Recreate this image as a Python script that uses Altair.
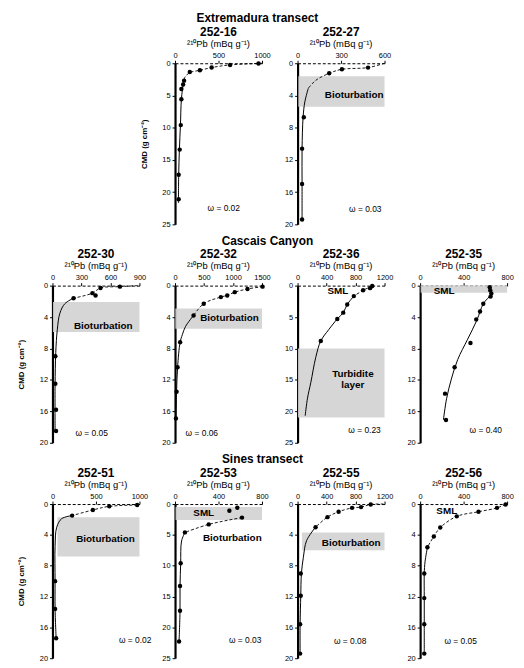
import altair as alt
import pandas as pd

FONT = "Liberation Sans"
W = 88
H = [163, 159, 156]
SUB = "²¹⁰Pb (mBq g⁻¹)"
YT = "CMD (g cm⁻²)"

# ---------------- 252-16 ----------------
P16_X = [960, 633, 421, 286, 170, 104, 93, 73, 73, 66, 54, 42, 42]
P16_D = [0.05, 0.26, 0.67, 1.1, 1.35, 2.7, 3.3, 4.0, 5.6, 9.6, 13.4, 17.3, 21.1]
U16_X = [1000, 633, 421, 286, 170, 112, 93]
U16_D = [0.0, 0.26, 0.67, 1.1, 1.45, 2.2, 3.3]
L16_X = [93, 73, 62, 50, 42, 39]
L16_D = [3.3, 5.6, 9.7, 13.4, 17.5, 21.7]

# ---------------- 252-27 ----------------
P27_X = [486, 306, 218, 43, 31, 31, 31]
P27_D = [0.54, 0.75, 1.25, 6.7, 10.6, 15.0, 19.4]
U27_X = [600, 486, 306, 218, 127, 74]
U27_D = [0.0, 0.54, 0.75, 1.25, 2.1, 3.1]
L27_X = [74, 50, 38, 31, 31, 31]
L27_D = [3.1, 4.8, 6.7, 10.6, 15.0, 19.4]

# ---------------- 252-30 ----------------
P30_X = [698, 497, 446, 413, 218, 30, 30, 37, 37]
P30_D = [0.13, 0.3, 1.25, 0.96, 1.6, 9.0, 12.5, 15.8, 18.5]
U30_X = [883, 698, 497, 413, 218]
U30_D = [0.0, 0.13, 0.3, 0.96, 1.6]
L30_X = [218, 128, 77, 50, 34, 27, 27]
L30_D = [1.6, 2.3, 3.5, 5.6, 8.5, 12.7, 18.5]

# ---------------- 252-32 ----------------
P32_X = [1510, 1250, 1030, 900, 790, 495, 320, 88, 44, 27, 16]
P32_D = [0.13, 0.42, 0.83, 1.25, 1.46, 2.3, 3.8, 7.2, 10.4, 13.5, 16.9]
U32_X = [1516, 1253, 1033, 896, 786, 495, 319]
U32_D = [0.13, 0.42, 0.83, 1.25, 1.46, 2.3, 3.8]
L32_X = [319, 181, 126, 88, 44, 27, 16]
L32_D = [3.8, 5.2, 6.25, 7.2, 10.4, 13.5, 16.9]

# ---------------- 252-36 ----------------
P36_X = [1030, 1000, 904, 776, 685, 630, 548, 320]
P36_D = [0.05, 0.4, 0.75, 1.67, 3.0, 4.3, 5.3, 8.8]
U36_X = [1030, 904, 776]
U36_D = [0.05, 0.75, 1.67]
L36_X = [776, 685, 630, 548, 430, 320, 251, 183, 137, 105]
L36_D = [1.67, 3.0, 4.3, 5.3, 7.0, 8.8, 11.4, 15.4, 17.9, 20.7]

# ---------------- 252-35 ----------------
P35_X = [640, 645, 655, 648, 581, 551, 516, 463, 317, 229, 238]
P35_D = [0.2, 0.6, 1.0, 1.4, 2.3, 3.3, 4.3, 7.3, 10.4, 13.75, 17.1]
U35_X = []
U35_D = []
L35_X = [640, 654, 581, 522, 434, 346, 287, 243, 214]
L35_D = [0.2, 1.0, 2.3, 4.4, 6.9, 9.4, 11.9, 14.4, 17.1]

# ---------------- 252-51 ----------------
P51_X = [974, 653, 464, 226, 30, 30, 42]
P51_D = [0.13, 0.3, 0.77, 1.5, 10.0, 13.6, 17.4]
U51_X = [974, 653, 464, 226]
U51_D = [0.13, 0.3, 0.77, 1.5]
L51_X = [226, 106, 49, 30, 30, 30, 42]
L51_D = [1.5, 1.9, 3.0, 5.5, 10.0, 13.6, 17.4]

# ---------------- 252-53 ----------------
P53_X = [573, 500, 616, 310, 91, 52, 46, 46, 37]
P53_D = [0.6, 1.1, 2.2, 3.3, 4.6, 9.6, 13.3, 17.3, 22.3]
U53_X = [616, 310, 91]
U53_D = [2.2, 3.3, 4.6]
L53_X = [91, 60, 52, 46, 46, 37]
L53_D = [4.6, 6.0, 9.6, 13.3, 17.3, 22.3]

# ---------------- 252-55 ----------------
P55_X = [1009, 876, 752, 566, 412, 248, 44, 44, 35, 35]
P55_D = [0.05, 0.4, 0.5, 1.0, 1.7, 3.0, 9.0, 11.9, 15.6, 19.4]
U55_X = [1186, 1009, 876, 752, 566, 412, 248]
U55_D = [0.0, 0.05, 0.4, 0.5, 1.0, 1.7, 3.0]
L55_X = [248, 124, 80, 53, 44, 35, 35]
L55_D = [3.0, 4.75, 6.9, 9.0, 11.9, 15.6, 19.4]

# ---------------- 252-56 ----------------
P56_X = [786, 707, 537, 337, 185, 126, 67, 38, 38, 38, 38]
P56_D = [0.05, 0.5, 1.0, 1.6, 3.05, 4.2, 5.6, 9.0, 12.2, 15.6, 19.4]
U56_X = [786, 707, 537, 337, 185, 126, 67]
U56_D = [0.05, 0.5, 1.0, 1.6, 3.05, 4.2, 5.6]
L56_X = [67, 45, 38, 38, 38, 38]
L56_D = [5.6, 7.5, 9.0, 12.2, 15.6, 19.4]

# shaded layers: x1, x2, d1, d2
BOX27 = [[5, 600, 1.6, 5.4]]
BOX30 = [[5, 900, 2.1, 5.9]]
BOX32 = [[5, 1500, 2.9, 5.5]]
BOX36 = [[5, 1200, 10.0, 21.0]]
BOX35 = [[5, 800, 0.0, 0.9]]
BOX51 = [[57, 1000, 1.7, 6.8]]
BOX53 = [[5, 800, 0.5, 2.6]]
BOX55 = [[60, 1200, 3.7, 6.0]]

# in-panel labels: text, x, d
LAB27 = [["Bioturbation", 390, 4.0]]
LAB30 = [["Bioturbation", 526, 5.1]]
LAB32 = [["Bioturbation", 940, 4.1]]
LAB36 = [["SML", 557, 0.9], ["Turbidite", 763, 14.0], ["layer", 763, 15.8]]
LAB35 = [["SML", 220, 0.75]]
LAB51 = [["Bioturbation", 610, 4.5]]
LAB53 = [["SML", 264, 1.4], ["Bioturbation", 527, 5.5]]
LAB55 = [["Bioturbation", 740, 5.0]]
LAB56 = [["SML", 245, 0.9]]

# omega labels: text, x, d
OM16 = ["ω = 0.02", 560, 22.5]
OM27 = ["ω = 0.03", 467, 18.1]
OM30 = ["ω = 0.05", 405, 18.75]
OM32 = ["ω = 0.06", 462, 18.75]
OM36 = ["ω = 0.23", 924, 22.9]
OM35 = ["ω = 0.40", 604, 18.4]
OM51 = ["ω = 0.02", 950, 17.7]
OM53 = ["ω = 0.03", 645, 22.1]
OM55 = ["ω = 0.08", 725, 17.8]
OM56 = ["ω = 0.05", 373, 17.8]

T5 = [0, 5, 10, 15, 20, 25]
T4 = [0, 4, 8, 12, 16, 20]


def yaxis(yticks, ytitle, hidden=False):
    kw = dict(values=yticks, title=ytitle, grid=False, domainWidth=2.2, tickSize=3,
              labelPadding=2, titlePadding=14, format="d")
    if hidden:
        kw.update(labelOpacity=0, titleOpacity=0, domainOpacity=0, tickOpacity=0)
    return alt.Axis(**kw)


def panel(name, xmax, xticks, ymax, yticks, px, pd_, ux, ud, lx, ld, boxes, labels, om, h, ytitle):
    X = alt.X("x:Q", scale=alt.Scale(domain=[0, xmax], nice=False, zero=False),
              axis=alt.Axis(orient="top", values=xticks, title=None, grid=False,
                            labelFlush=False, tickSize=3, domainDash=[3, 2],
                            labelPadding=1, format="d"))
    Y = alt.Y("d:Q", scale=alt.Scale(domain=[0, ymax], reverse=True, nice=False, zero=False),
              axis=yaxis(yticks, ytitle))
    layers = []
    if boxes:
        bdf = pd.DataFrame(boxes, columns=["x", "x2", "d", "d2"])
        layers.append(alt.Chart(bdf).mark_rect(color="#d2d2d2", opacity=0.9).encode(
            x=X, x2="x2:Q", y=Y, y2="d2:Q"))
    if labels:
        ldf = pd.DataFrame(labels, columns=["t", "x", "d"])
        layers.append(alt.Chart(ldf).mark_text(font=FONT, fontSize=10, fontWeight="bold",
                                               color="black").encode(x=X, y=Y, text="t:N"))
    if ux:
        udf = pd.DataFrame({"x": ux, "d": ud, "o": list(range(len(ux)))})
        layers.append(alt.Chart(udf).mark_line(color="black", strokeWidth=0.9, strokeDash=[3, 2],
                                               interpolate="catmull-rom").encode(x=X, y=Y, order="o:Q"))
    sdf = pd.DataFrame({"x": lx, "d": ld, "o": list(range(len(lx)))})
    layers.append(alt.Chart(sdf).mark_line(color="black", strokeWidth=1,
                                           interpolate="catmull-rom").encode(x=X, y=Y, order="o:Q"))
    pdf = pd.DataFrame({"x": px, "d": pd_})
    layers.append(alt.Chart(pdf).mark_circle(color="black", size=20, opacity=1).encode(x=X, y=Y))
    odf = pd.DataFrame([om], columns=["t", "x", "d"])
    layers.append(alt.Chart(odf).mark_text(font=FONT, fontSize=8.5, color="black").encode(
        x=X, y=Y, text="t:N"))
    return alt.layer(*layers).properties(
        width=W, height=h,
        title=alt.TitleParams(text=name, subtitle=SUB, font=FONT, fontSize=12, fontWeight="bold",
                              subtitleFont=FONT, subtitleFontSize=9.5, subtitleColor="black",
                              color="black", anchor="middle", offset=2, subtitlePadding=0))


def blank(h, with_axis):
    y = alt.Y("d:Q", scale=alt.Scale(domain=[0, 20], reverse=True, nice=False),
              axis=yaxis(T4, YT, hidden=True) if with_axis else None)
    return alt.Chart(pd.DataFrame({"x": [0], "d": [0]})).mark_point(opacity=0).encode(
        x=alt.X("x:Q", axis=None), y=y).properties(width=W, height=h)


p16 = panel("252-16", 1000, [0, 500, 1000], 25, T5, P16_X, P16_D, U16_X, U16_D, L16_X, L16_D, [], [], OM16, H[0], YT)
p27 = panel("252-27", 600, [0, 300, 600], 20, T4, P27_X, P27_D, U27_X, U27_D, L27_X, L27_D, BOX27, LAB27, OM27, H[0], None)
p30 = panel("252-30", 900, [0, 300, 600, 900], 20, T4, P30_X, P30_D, U30_X, U30_D, L30_X, L30_D, BOX30, LAB30, OM30, H[1], YT)
p32 = panel("252-32", 1500, [0, 500, 1000, 1500], 20, T4, P32_X, P32_D, U32_X, U32_D, L32_X, L32_D, BOX32, LAB32, OM32, H[1], None)
p36 = panel("252-36", 1200, [0, 400, 800, 1200], 25, T5, P36_X, P36_D, U36_X, U36_D, L36_X, L36_D, BOX36, LAB36, OM36, H[1], None)
p35 = panel("252-35", 800, [0, 400, 800], 20, T4, P35_X, P35_D, U35_X, U35_D, L35_X, L35_D, BOX35, LAB35, OM35, H[1], None)
p51 = panel("252-51", 1000, [0, 500, 1000], 20, T4, P51_X, P51_D, U51_X, U51_D, L51_X, L51_D, BOX51, LAB51, OM51, H[2], YT)
p53 = panel("252-53", 800, [0, 400, 800], 25, T5, P53_X, P53_D, U53_X, U53_D, L53_X, L53_D, BOX53, LAB53, OM53, H[2], None)
p55 = panel("252-55", 1200, [0, 400, 800, 1200], 20, T4, P55_X, P55_D, U55_X, U55_D, L55_X, L55_D, BOX55, LAB55, OM55, H[2], None)
p56 = panel("252-56", 800, [0, 400, 800], 20, T4, P56_X, P56_D, U56_X, U56_D, L56_X, L56_D, [], LAB56, OM56, H[2], None)


def sec(t, dx):
    return alt.TitleParams(text=t, font=FONT, fontSize=12, fontWeight="bold", color="black",
                           anchor="middle", dx=dx, offset=1)


SP = 36
row1 = alt.hconcat(blank(H[0], True), p16, p27, blank(H[0], False), spacing=SP, bounds="flush").properties(
    title=sec("Extremadura transect", -5))
row2 = alt.hconcat(p30, p32, p36, p35, spacing=SP, bounds="flush").properties(
    title=sec("Cascais Canyon", 2))
row3 = alt.hconcat(p51, p53, p55, p56, spacing=SP, bounds="flush").properties(
    title=sec("Sines transect", -3))

chart = alt.vconcat(row1, row2, row3, spacing=6).properties(
    padding={"left": 9, "top": 0, "right": 2, "bottom": 2}
).configure_view(strokeWidth=0).configure_axis(
    labelFont=FONT, labelFontSize=7.5, labelColor="black", domainColor="black", tickColor="black",
    titleFont=FONT, titleFontSize=8, titleColor="black", titleFontWeight="bold"
).configure_title(font=FONT)

chart.save("out.html", embed_options={"renderer": "svg", "actions": False})
